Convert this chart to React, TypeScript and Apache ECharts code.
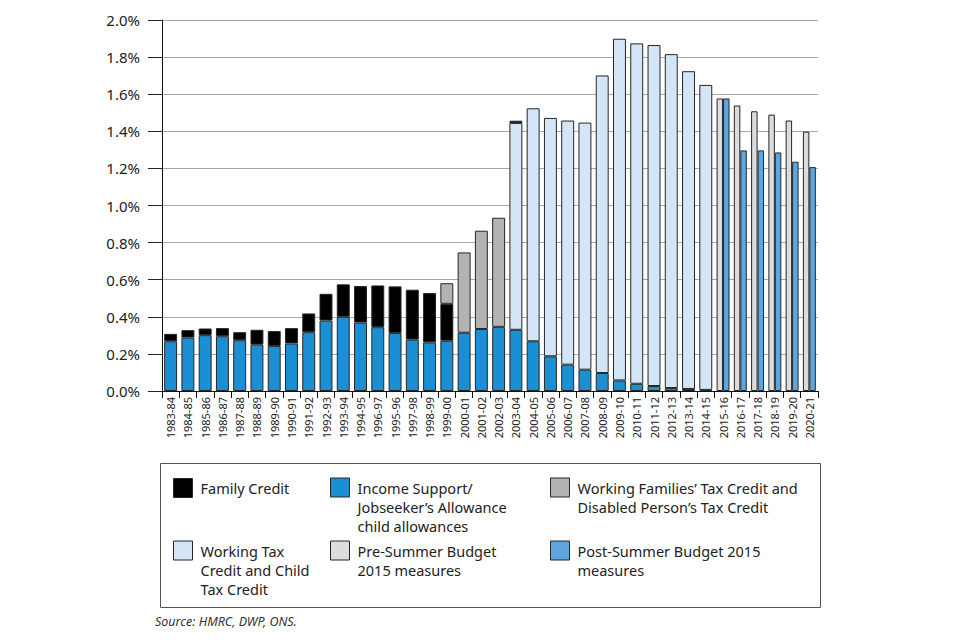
import React, { useEffect, useRef } from "react";
import * as echarts from "echarts";

const categories = [
  "1983-84", "1984-85", "1985-86", "1986-87", "1987-88", "1988-89", "1989-90", "1990-91",
  "1991-92", "1992-93", "1993-94", "1994-95", "1996-97", "1995-96", "1997-98", "1998-99",
  "1999-00", "2000-01", "2001-02", "2002-03", "2003-04", "2004-05", "2005-06", "2006-07",
  "2007-08", "2008-09", "2009-10", "2010-11", "2011-12", "2012-13", "2013-14", "2014-15",
  "2015-16", "2016-17", "2017-18", "2018-19", "2019-20", "2020-21",
];

const N = null;

// Income Support / JSA child allowances (bottom segment)
const incomeSupport = [
  0.268, 0.288, 0.301, 0.295, 0.274, 0.250, 0.243, 0.256,
  0.317, 0.380, 0.400, 0.369, 0.344, 0.312, 0.277, 0.262,
  0.271, 0.314, 0.334, 0.346, 0.330, 0.268, 0.187, 0.142,
  0.115, 0.097, 0.057, 0.039, 0.027, 0.016, 0.011, 0.006,
  N, N, N, N, N, N,
];

// Family Credit segment
const familyCredit = [
  0.040, 0.040, 0.036, 0.044, 0.043, 0.080, 0.080, 0.083,
  0.101, 0.144, 0.175, 0.197, 0.225, 0.252, 0.269, 0.266,
  0.199, N, N, N, N, N, N, N,
  N, N, N, N, N, N, N, N,
  N, N, N, N, N, N,
];

// Working Families' Tax Credit and Disabled Person's Tax Credit segment
const wftc = [
  N, N, N, N, N, N, N, N,
  N, N, N, N, N, N, N, N,
  0.111, 0.433, 0.530, 0.588, N, N, N, N,
  N, N, N, N, N, N, N, N,
  N, N, N, N, N, N,
];

// Working Tax Credit and Child Tax Credit segment
const wtcCtc = [
  N, N, N, N, N, N, N, N,
  N, N, N, N, N, N, N, N,
  N, N, N, N, 1.115, 1.256, 1.285, 1.316,
  1.332, 1.604, 1.842, 1.835, 1.838, 1.800, 1.713, 1.644,
  N, N, N, N, N, N,
];

// thin residual sliver on top of 2003-04
const residual = [
  N, N, N, N, N, N, N, N,
  N, N, N, N, N, N, N, N,
  N, N, N, N, 0.012, N, N, N,
  N, N, N, N, N, N, N, N,
  N, N, N, N, N, N,
];

const preSummer = [
  N, N, N, N, N, N, N, N,
  N, N, N, N, N, N, N, N,
  N, N, N, N, N, N, N, N,
  N, N, N, N, N, N, N, N,
  1.577, 1.539, 1.508, 1.490, 1.458, 1.398,
];

const postSummer = [
  N, N, N, N, N, N, N, N,
  N, N, N, N, N, N, N, N,
  N, N, N, N, N, N, N, N,
  N, N, N, N, N, N, N, N,
  1.577, 1.297, 1.297, 1.286, 1.236, 1.207,
];

const yTicks = [0, 0.2, 0.4, 0.6, 0.8, 1.0, 1.2, 1.4, 1.6, 1.8, 2.0];

const FONT = "'Noto Sans', 'Open Sans', sans-serif";
const BORDER = "#262626";

const legendItems = [
  { name: "Family Credit", lines: ["Family Credit"], left: 173, iconTop: 478 },
  { name: "Income Support", lines: ["Income Support/", "Jobseeker\u2019s Allowance", "child allowances"], left: 330, iconTop: 478 },
  { name: "WFTC", lines: ["Working Families\u2019 Tax Credit and", "Disabled Person\u2019s Tax Credit"], left: 550, iconTop: 478 },
  { name: "WTC", lines: ["Working Tax", "Credit and Child", "Tax Credit"], left: 173, iconTop: 541 },
  { name: "Pre", lines: ["Pre-Summer Budget", "2015 measures"], left: 330, iconTop: 541 },
  { name: "Post", lines: ["Post-Summer Budget 2015", "measures"], left: 550, iconTop: 541 },
];

export default function App() {
  const ref = useRef<HTMLDivElement>(null);

  useEffect(() => {
    document.body.style.margin = "0";
    if (!ref.current) return;
    const chart = echarts.init(ref.current, undefined, { renderer: "svg" });
    const LH = 19;
    const legends = legendItems.map((it) => {
      const n = it.lines.length;
      // prepend blank lines so that the first real line is centred on the icon
      const text = new Array(n - 1).fill(" ").concat(it.lines).join("\n");
      return {
        data: [it.name],
        left: it.left,
        top: it.iconTop - LH * (n - 1),
        padding: 0,
        icon: "rect",
        itemWidth: 19,
        itemHeight: 19,
        selectedMode: false,
        itemStyle: { borderColor: BORDER, borderWidth: 1 },
        formatter: () => text,
        textStyle: {
          fontFamily: FONT,
          fontSize: 14.5,
          color: "#222",
          lineHeight: LH,
          padding: [0, 0, 0, 3],
        },
      };
    });

    const itemStyle = (color: string) => ({ color, borderColor: BORDER, borderWidth: 1 });

    chart.setOption({
      animation: false,
      backgroundColor: "#ffffff",
      grid: { left: 162, right: 142, top: 20, bottom: 249, containLabel: false },
      legend: legends,
      xAxis: [
        {
          type: "category",
          data: categories,
          boundaryGap: true,
          axisLine: { lineStyle: { color: "#111", width: 1 } },
          axisTick: { show: true, interval: 0, length: 7, lineStyle: { color: "#111" } },
          axisLabel: {
            interval: 0,
            rotate: 90,
            fontFamily: FONT,
            fontSize: 11,
            color: "#222",
            margin: 6,
          },
        },
        {
          type: "category",
          data: categories,
          show: false,
          boundaryGap: true,
        },
      ],
      yAxis: {
        type: "value",
        min: 0,
        max: 2,
        interval: 0.2,
        axisLine: { show: true, lineStyle: { color: "#111", width: 1 } },
        axisTick: { show: true, length: 14, lineStyle: { color: "#222" } },
        axisLabel: {
          fontFamily: FONT,
          fontSize: 15,
          color: "#222",
          margin: 22,
          formatter: (v: number) => (yTicks.includes(Math.round(v * 10) / 10) ? v.toFixed(1) + "%" : ""),
        },
        splitLine: { show: true, lineStyle: { color: "#a8a8a8", width: 1 } },
      },
      series: [
        { name: "Income Support", type: "bar", stack: "main", xAxisIndex: 0, data: incomeSupport, itemStyle: itemStyle("#1a8fd3"), barCategoryGap: "25%" },
        { name: "Family Credit", type: "bar", stack: "main", xAxisIndex: 0, data: familyCredit, itemStyle: itemStyle("#000000") },
        { name: "WFTC", type: "bar", stack: "main", xAxisIndex: 0, data: wftc, itemStyle: itemStyle("#b3b3b3") },
        { name: "WTC", type: "bar", stack: "main", xAxisIndex: 0, data: wtcCtc, itemStyle: itemStyle("#d3e5f6") },
        { name: "Family Credit", type: "bar", stack: "main", xAxisIndex: 0, data: residual, itemStyle: itemStyle("#000000"), barCategoryGap: "25%" },
        { name: "Pre", type: "bar", xAxisIndex: 1, data: preSummer, itemStyle: itemStyle("#dcdcdc"), barGap: "0%" },
        { name: "Post", type: "bar", xAxisIndex: 1, data: postSummer, itemStyle: itemStyle("#5da6de"), barGap: "0%", barCategoryGap: "25%" },
      ],
      graphic: [
        {
          type: "rect",
          shape: { x: 160.5, y: 463.5, width: 660, height: 144 },
          style: { fill: "none", stroke: "#555", lineWidth: 1 },
          silent: true,
        },
        {
          type: "text",
          x: 155,
          y: 615,
          style: {
            text: "Source: HMRC, DWP, ONS.",
            fontFamily: FONT,
            fontSize: 12.5,
            fontStyle: "italic",
            fill: "#333",
          },
        },
      ],
    });
    return () => chart.dispose();
  }, []);

  return <div ref={ref} style={{ width: 960, height: 640 }} />;
}
